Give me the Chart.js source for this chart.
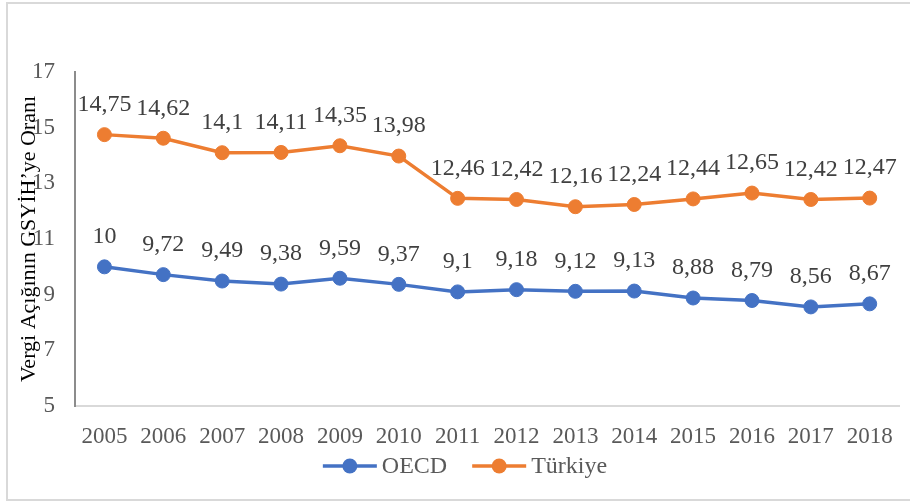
<!DOCTYPE html>
<html>
<head>
<meta charset="utf-8">
<script src="https://cdn.jsdelivr.net/npm/chart.js@4.4.1/dist/chart.umd.min.js"></script>
<style>
html,body{margin:0;padding:0;background:#fff;}
#wrap{position:relative;width:910px;height:502px;overflow:hidden;}
#frame{position:absolute;left:6px;top:2px;width:906px;height:499px;border:2px solid #d9d9d9;box-sizing:border-box;pointer-events:none;}
canvas{position:absolute;left:0;top:0;}
</style>
</head>
<body>
<div id="wrap">
<canvas id="c" width="910" height="502"></canvas>
<div id="frame"></div>
</div>
<script>
const categories = ['2005','2006','2007','2008','2009','2010','2011','2012','2013','2014','2015','2016','2017','2018'];
const oecdValues = [10, 9.72, 9.49, 9.38, 9.59, 9.37, 9.1, 9.18, 9.12, 9.13, 8.88, 8.79, 8.56, 8.67];
const turkiyeValues = [14.75, 14.62, 14.1, 14.11, 14.35, 13.98, 12.46, 12.42, 12.16, 12.24, 12.44, 12.65, 12.42, 12.47];
const yTicks = [5, 7, 9, 11, 13, 15, 17];
const yTitle = 'Vergi Açığının GSYİH’ye Oranı';

const BLUE = '#4472C4';
const ORANGE = '#ED7D31';
const FONT = '"Liberation Serif", "Times New Roman", serif';

Chart.defaults.font.family = FONT;
Chart.defaults.color = '#595959';

const dataLabels = {
  id: 'dataLabels',
  afterDatasetsDraw(chart) {
    const ctx = chart.ctx;
    ctx.save();
    ctx.font = '24px ' + FONT;
    ctx.fillStyle = '#404040';
    ctx.textAlign = 'center';
    ctx.textBaseline = 'middle';
    chart.data.datasets.forEach((ds, i) => {
      const meta = chart.getDatasetMeta(i);
      meta.data.forEach((pt, j) => {
        const txt = String(ds.data[j]).replace('.', ',');
        ctx.fillText(txt, pt.x, pt.y - 30);
      });
    });
    ctx.restore();
  }
};

// Legend drawn as line + marker + label (Excel style)
const lineLegend = {
  id: 'lineLegend',
  afterDraw(chart) {
    const ctx = chart.ctx;
    ctx.save();
    ctx.font = '24px ' + FONT;
    ctx.textBaseline = 'middle';
    ctx.textAlign = 'left';
    const seg = 54, gapText = 5, gapItem = 25;
    const items = chart.data.datasets.map(ds => ({
      ds, w: seg + gapText + ctx.measureText(ds.label).width
    }));
    const total = items.reduce((a, it) => a + it.w, 0) + gapItem * (items.length - 1);
    let x = chart.width / 2 + 10 - total / 2;
    const y = chart.chartArea.bottom + 60;
    items.forEach(it => {
      const c = it.ds.borderColor;
      ctx.strokeStyle = c; ctx.lineWidth = 3.5;
      ctx.beginPath(); ctx.moveTo(x, y); ctx.lineTo(x + seg, y); ctx.stroke();
      ctx.fillStyle = c;
      ctx.beginPath(); ctx.arc(x + seg / 2, y, 7.5, 0, Math.PI * 2); ctx.fill();
      ctx.fillStyle = '#595959';
      ctx.fillText(it.ds.label, x + seg + gapText, y + 1);
      x += it.w + gapItem;
    });
    ctx.restore();
  }
};

const mkDs = (label, data, color) => ({
  label, data,
  borderColor: color, backgroundColor: color,
  pointBackgroundColor: color, pointBorderColor: color,
  pointStyle: 'circle',
  pointRadius: 7, pointBorderWidth: 1, pointHoverRadius: 7,
  borderWidth: 3.5, tension: 0, fill: false
});

new Chart(document.getElementById('c'), {
  type: 'line',
  data: {
    labels: categories,
    datasets: [mkDs('OECD', oecdValues, BLUE), mkDs('Türkiye', turkiyeValues, ORANGE)]
  },
  options: {
    responsive: false,
    animation: false,
    events: [],
    layout: { padding: { top: 72, right: 4, left: 0, bottom: 55 } },
    plugins: {
      tooltip: { enabled: false },
      legend: { display: false }
    },
    scales: {
      x: {
        offset: true,
        grid: { display: false, drawTicks: false, offset: true },
        border: { display: true, color: '#d9d9d9', width: 2 },
        ticks: { font: { size: 23 }, color: '#595959', padding: 17, maxRotation: 0, autoSkip: false },
        afterFit(s) { s.height = 41; }
      },
      y: {
        min: 5, max: 17,
        afterBuildTicks(s) { s.ticks = yTicks.map(v => ({ value: v })); },
        grid: { display: false, drawTicks: false },
        border: { display: true, color: '#8c8c8c', width: 2 },
        ticks: { font: { size: 23 }, color: '#595959', padding: 20 },
        title: { display: true, text: yTitle, font: { size: 22 }, color: '#000000', padding: { top: 16, bottom: 0 } },
        afterFit(s) { s.width = 75; }
      }
    }
  },
  plugins: [dataLabels, lineLegend]
});
</script>
</body>
</html>
